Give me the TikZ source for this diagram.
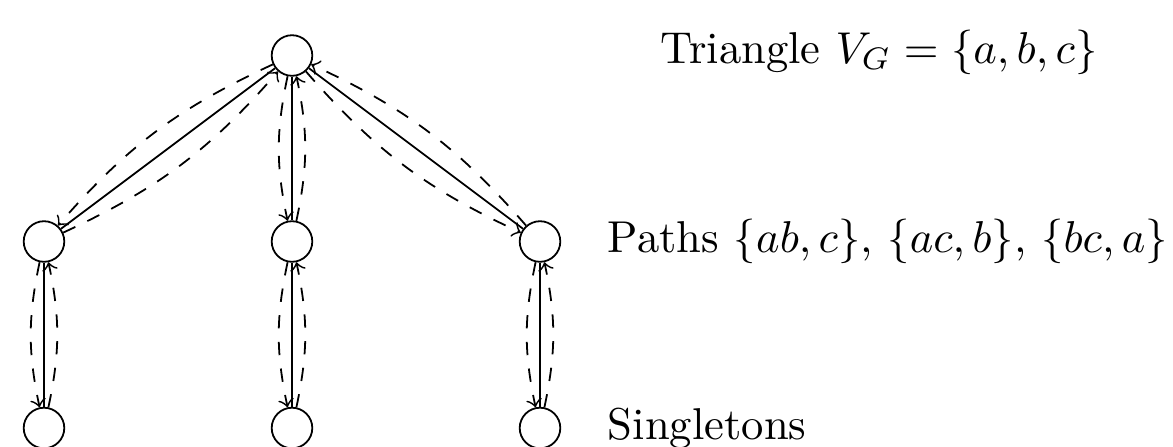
\documentclass[tikz,border=0pt]{standalone}
\begin{document}
\begin{tikzpicture}[x=0.2242pt,y=-0.2242pt,
  vert/.style={circle,draw,minimum size=9.1pt,inner sep=0pt},
  flow/.style={->,dashed,bend right=12},
  lbl/.style={inner sep=0pt}]
\useasboundingbox (0,0) rectangle (1173,446);
\node[vert] (t) at (292,55.5) {};
\node[vert] (m1) at (44,241.5) {};
\node[vert] (m2) at (292,241.5) {};
\node[vert] (m3) at (540,241.5) {};
\node[vert] (b1) at (44,428) {};
\node[vert] (b2) at (292,428) {};
\node[vert] (b3) at (540,428) {};
\foreach \p/\c in {t/m1,t/m2,t/m3,m1/b1,m2/b2,m3/b3}{
  \draw (\p) -- (\c);
  \draw[flow] (\p) to (\c);
  \draw[flow] (\c) to (\p);
}
\node[lbl] (tl) at (879,52) {Triangle $V_G=\{a,b,c\}$};
\node[lbl,anchor=west] (pl) at (607,241.5) {Paths $\{ab,c\}$, $\{ac,b\}$, $\{bc,a\}$};
\node[lbl,anchor=west] (sl) at (607,428) {Singletons};
\end{tikzpicture}
\end{document}
